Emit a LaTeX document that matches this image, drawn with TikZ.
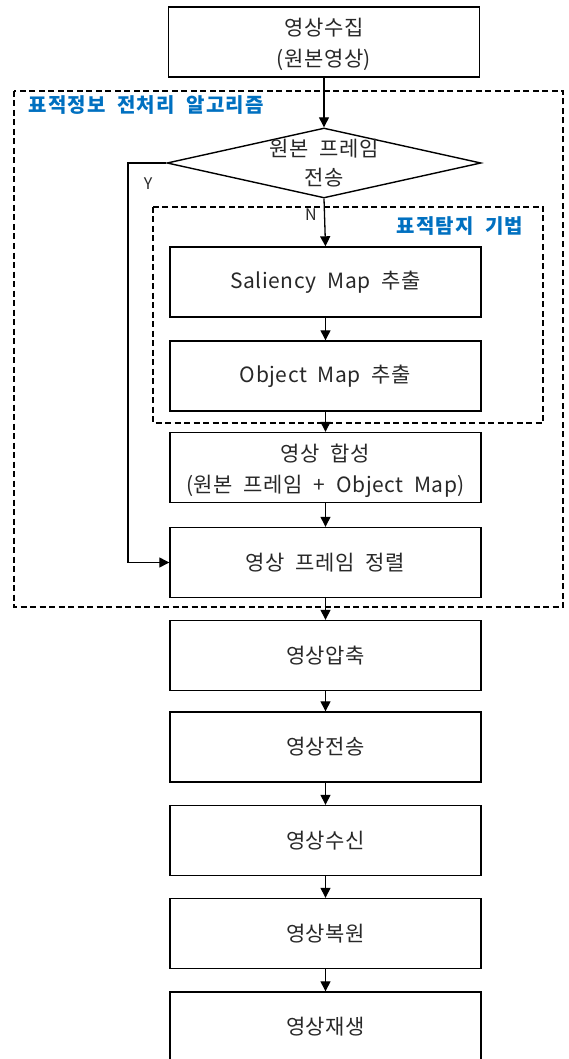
\documentclass[tikz,border=0pt]{standalone}
\usepackage{fontspec}
\setmainfont{Noto Sans CJK KR}[LetterSpace=2.5, WordSpace=2.1]
\newfontfamily\titlefont{Noto Sans CJK KR}[LetterSpace=6, WordSpace=2.0]
\usetikzlibrary{shapes.geometric,arrows.meta}
\definecolor{titleblue}{RGB}{0,112,192}
\definecolor{inkgray}{RGB}{40,40,40}
\begin{document}
\begin{tikzpicture}[x=1pt,y=-1pt,
  every node/.style={font=\fontsize{21}{31}\selectfont, text=inkgray},
  procbox/.style={draw=black, line width=1.4pt, rectangle, minimum width=311pt,
    minimum height=70pt, inner sep=0pt, align=center},
  boxtext/.style={align=center, font=\fontsize{21}{31}\selectfont, text=inkgray},
  decbox/.style={draw=black, line width=1.4pt, diamond, aspect=4.5,
    minimum width=314pt, minimum height=70pt, inner sep=0pt},
  flow/.style={draw=black, line width=1.3pt, -{Triangle[length=10pt,width=10pt]}},
  group/.style={draw=black, line width=1.2pt, dash pattern=on 6pt off 3.5pt},
  grouptitle/.style={font=\titlefont\fontsize{20}{24}\selectfont\bfseries, text=titleblue},
  branchlabel/.style={font=\fontsize{16}{18}\selectfont}
]
\useasboundingbox (0,0) rectangle (568,1059);
\clip (0,0) rectangle (568,1059);

% processing groups
\draw[group] (14,91) rectangle (563,607);
\draw[group] (153,207) rectangle (543,423);
\node[grouptitle, anchor=west] (gtitle) at (25,105) {표적정보 전처리 알고리즘};
\node[grouptitle] (dtitle) at (460,226) {표적탐지 기법};

% flow steps
\node[procbox, label={[boxtext, yshift=-2pt]center:{영상수집\\(원본영상)}}] (collect) at (324,42) {};
\node[decbox, label={[boxtext, font=\fontsize{21}{29}\selectfont]center:{원본 프레임\\전송}}] (dec) at (324,163) {};
\node[procbox] (saliency) at (325.5,282) {Saliency Map 추출};
\node[procbox] (object) at (325.5,376) {Object Map 추출};
\node[procbox, label={[boxtext, yshift=-3pt]center:{영상 합성\\(원본 프레임 + Object Map)}}] (merge) at (325.5,467.5) {};
\node[procbox] (align) at (325.5,562.5) {영상 프레임 정렬};
\node[procbox] (compress) at (325.5,655.5) {영상압축};
\node[procbox] (send) at (325.5,747) {영상전송};
\node[procbox] (receive) at (325.5,840.5) {영상수신};
\node[procbox] (restore) at (325.5,933.5) {영상복원};
\node[procbox] (play) at (325.5,1027) {영상재생};

% connectors
\coordinate (ybend) at (128,163);
\draw[flow] (collect.south) -- (dec.north);
\draw[flow] (dec.south) -- (saliency.north);
\draw[flow] (dec.west) -- (ybend) |- (align.west);
\draw[flow] (saliency.south) -- (object.north);
\draw[flow] (object.south) -- (merge.north);
\draw[flow] (merge.south) -- (align.north);
\draw[flow] (align.south) -- (compress.north);
\draw[flow] (compress.south) -- (send.north);
\draw[flow] (send.south) -- (receive.north);
\draw[flow] (receive.south) -- (restore.north);
\draw[flow] (restore.south) -- (play.north);

% branch labels
\node[branchlabel] (ylab) at (148,184) {Y};
\node[branchlabel] (nlab) at (311,215) {N};
\end{tikzpicture}
\end{document}
